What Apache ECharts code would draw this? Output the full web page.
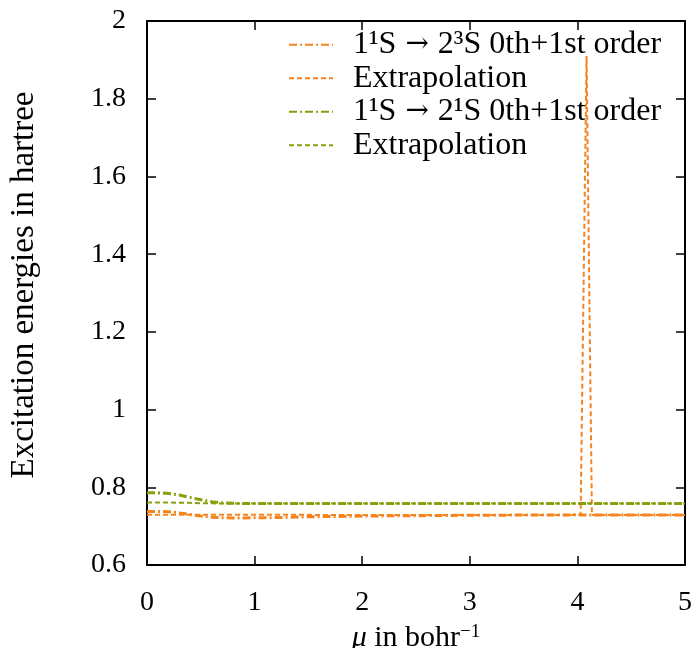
<!DOCTYPE html>
<html>
<head>
<meta charset="utf-8">
<script src="https://cdn.jsdelivr.net/npm/echarts@6/dist/echarts.min.js"></script>
<style>html,body{margin:0;padding:0;background:#fff}#c{width:697px;height:648px}</style>
</head>
<body>
<div id="c"></div>
<script>
// mu values (bohr^-1)
const mu = [0, 0.1, 0.2, 0.3, 0.4, 0.5, 0.6, 0.7, 0.8, 0.9, 1.0, 1.2, 1.5, 2.0, 2.5, 3.0, 3.5, 3.95, 4.0, 4.03, 4.085, 4.135, 4.2, 4.5, 5.0];
// 1^1S -> 2^3S 0th+1st order
const tripletFirst = [0.738, 0.738, 0.737, 0.734, 0.730, 0.726, 0.723, 0.7215, 0.721, 0.721, 0.7215, 0.722, 0.724, 0.726, 0.727, 0.728, 0.7285, 0.7285, 0.731, 0.7285, 0.7285, 0.7285, 0.7285, 0.7285, 0.7285];
// 1^1S -> 2^3S extrapolation
const tripletExtrap = [0.7295, 0.7295, 0.7295, 0.729, 0.729, 0.729, 0.729, 0.729, 0.729, 0.729, 0.729, 0.729, 0.729, 0.7285, 0.7285, 0.7285, 0.7285, 0.7285, 0.7285, 0.7285, 1.91, 0.7285, 0.7285, 0.7285, 0.7285];
// 1^1S -> 2^1S 0th+1st order
const singletFirst = [0.786, 0.786, 0.784, 0.780, 0.774, 0.768, 0.763, 0.760, 0.759, 0.758, 0.758, 0.758, 0.758, 0.758, 0.758, 0.758, 0.758, 0.758, 0.758, 0.758, 0.758, 0.758, 0.758, 0.758, 0.758];
// 1^1S -> 2^1S extrapolation
const singletExtrap = [0.761, 0.761, 0.761, 0.760, 0.760, 0.759, 0.759, 0.758, 0.758, 0.758, 0.758, 0.758, 0.758, 0.758, 0.758, 0.758, 0.758, 0.758, 0.758, 0.758, 0.758, 0.758, 0.758, 0.758, 0.758];
const legendNames = ['1¹S → 2³S 0th+1st order', 'Extrapolation', '1¹S → 2¹S 0th+1st order', 'Extrapolation '];
const xTicks = [0, 1, 2, 3, 4, 5];
const yTicks = [0.6, 0.8, 1, 1.2, 1.4, 1.6, 1.8, 2];

const ORANGE = '#f5841f';
const GREEN = '#8a9e0c';
const FONT = 'Liberation Serif';

function pairs(ys) { return mu.map((x, i) => [x, ys[i]]); }

const chart = echarts.init(document.getElementById('c'), null, {renderer: 'canvas'});
const axisLine = {show: true, onZero: false, lineStyle: {color: '#000', width: 2}};
const axisTick = {show: true, inside: true, length: 9, lineStyle: {color: '#000', width: 1.5}};
chart.setOption({
  animation: false,
  backgroundColor: '#fff',
  grid: {left: 147, right: 12, top: 21, bottom: 83, containLabel: false, outerBoundsMode: 'none'},
  legend: {
    orient: 'vertical', left: 288, top: 28, padding: 0, itemGap: 0,
    itemWidth: 44, itemHeight: 14,
    itemStyle: {opacity: 0},
    data: legendNames,
    formatter: name => name.replace(' → ', '{a|→}'),
    textStyle: {fontFamily: FONT, fontSize: 32, color: '#000', lineHeight: 33.5, padding: [0, 0, 0, 15],
      rich: {a: {fontFamily: 'DejaVu Serif', fontSize: 28, color: '#000', padding: [0, 9, 0, 9]}}}
  },
  xAxis: [{
    type: 'value', min: 0, max: 5, interval: 1, position: 'bottom',
    axisLine, axisTick, splitLine: {show: false},
    axisLabel: {fontFamily: FONT, fontSize: 28, color: '#000', margin: 24,
      formatter: v => String(v)},
    name: '{i|μ} in bohr{s|−1}', nameLocation: 'middle', nameGap: 58,
    nameTextStyle: {fontFamily: FONT, fontSize: 30, color: '#000',
      rich: {i: {fontFamily: FONT, fontStyle: 'italic', fontSize: 30}, s: {fontFamily: FONT, fontSize: 19, verticalAlign: 'top', padding: [0, 0, 12, 0]}}}
  }, {
    type: 'value', min: 0, max: 5, interval: 1, position: 'top',
    axisLine, axisTick, splitLine: {show: false}, axisLabel: {show: false}
  }],
  yAxis: [{
    type: 'value', min: 0.6, max: 2, interval: 0.2, position: 'left',
    axisLine, axisTick, splitLine: {show: false},
    axisLabel: {fontFamily: FONT, fontSize: 28, color: '#000', margin: 21,
      formatter: v => String(Math.round(v * 10) / 10)},
    name: 'Excitation energies in hartree', nameLocation: 'middle', nameGap: 106,
    nameTextStyle: {fontFamily: FONT, fontSize: 33, color: '#000', padding: [0, 0, 0, 16]}
  }, {
    type: 'value', min: 0.6, max: 2, interval: 0.2, position: 'right',
    axisLine, axisTick, splitLine: {show: false}, axisLabel: {show: false}
  }],
  series: [
    {name: legendNames[0], type: 'line', data: pairs(tripletFirst), symbol: 'none', showSymbol: false,
      lineStyle: {color: ORANGE, width: 3, type: [8, 3, 2, 3]}, itemStyle: {color: ORANGE}},
    {name: legendNames[1], type: 'line', data: pairs(tripletExtrap), symbol: 'none', showSymbol: false,
      lineStyle: {color: ORANGE, width: 2, type: [5, 3]}, itemStyle: {color: ORANGE}},
    {name: legendNames[2], type: 'line', data: pairs(singletFirst), symbol: 'none', showSymbol: false,
      lineStyle: {color: GREEN, width: 3, type: [8, 3, 2, 3]}, itemStyle: {color: GREEN}},
    {name: legendNames[3], type: 'line', data: pairs(singletExtrap), symbol: 'none', showSymbol: false,
      lineStyle: {color: GREEN, width: 2, type: [5, 3]}, itemStyle: {color: GREEN}}
  ]
});
</script>
</body>
</html>
